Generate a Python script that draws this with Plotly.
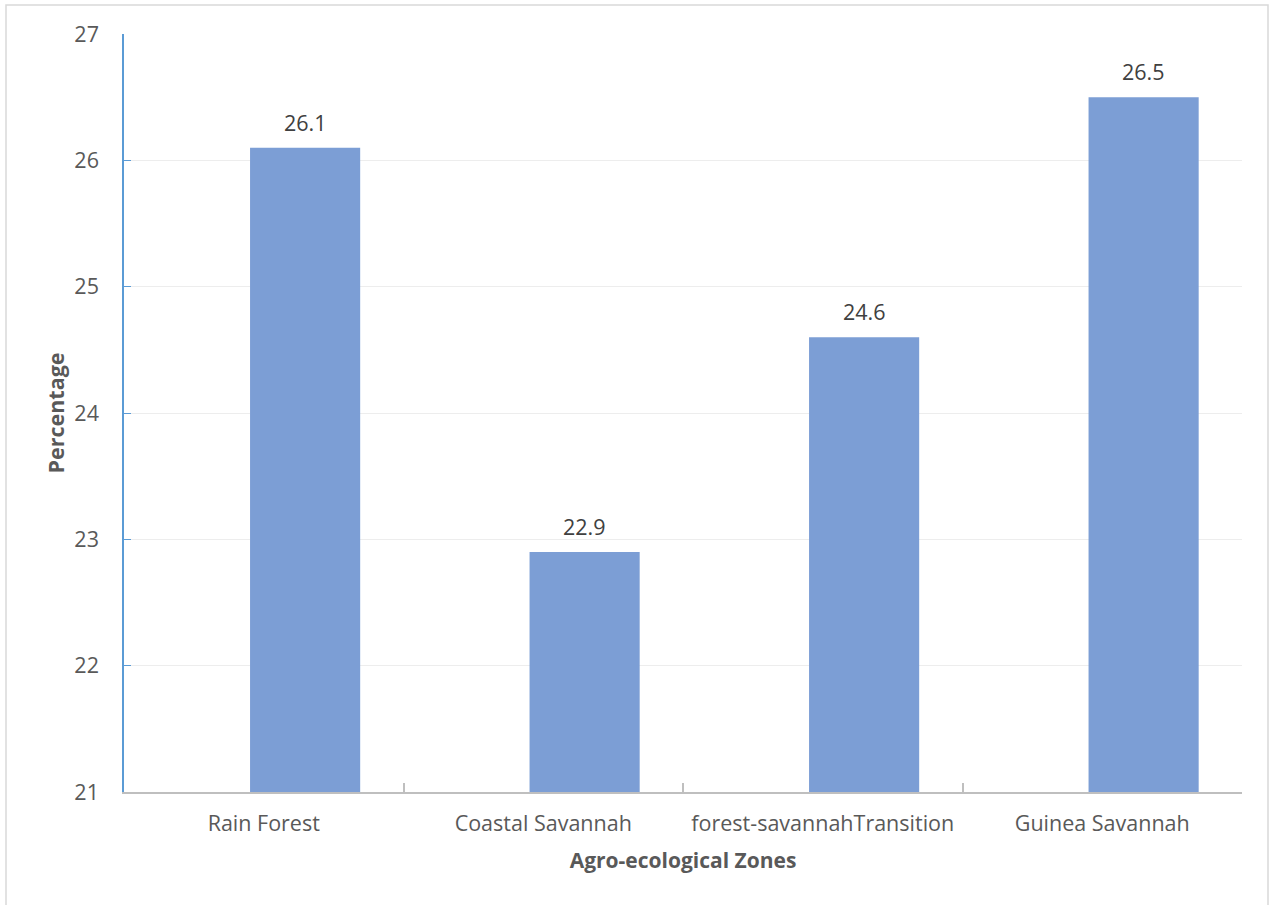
import plotly.graph_objects as go

categories = ["Rain Forest", "Coastal Savannah", "forest-savannahTransition", "Guinea Savannah"]
values = [26.1, 22.9, 24.6, 26.5]
y_ticks = [21, 22, 23, 24, 25, 26, 27]

BAR_W = 0.394
BAR_OFF = -0.049
FONT = "'Open Sans', 'Noto Sans', sans-serif"
TXT = "#595959"
FS = 21.5

fig = go.Figure()
fig.add_trace(go.Bar(
    x=categories, y=values,
    width=BAR_W, offset=BAR_OFF,
    marker=dict(color="#7C9ED5", line=dict(width=0)),
    hoverinfo="y",
))

for i, v in enumerate(values):
    fig.add_annotation(x=i + BAR_OFF + BAR_W / 2, y=v, text=f"{v}", showarrow=False,
                       yanchor="bottom", yshift=9, font=dict(size=FS, color="#404040", family=FONT))

fig.update_layout(
    width=1276, height=905,
    margin=dict(l=124, r=34, t=34, b=113),
    paper_bgcolor="white", plot_bgcolor="white",
    showlegend=False,
    font=dict(family=FONT, color=TXT),
    xaxis=dict(
        type="category",
        range=[-0.5, 3.5],
        tickson="boundaries", ticks="inside", ticklen=9, tickwidth=2, tickcolor="#BFBFBF",
        showline=True, linecolor="#BFBFBF", linewidth=2,
        showgrid=False, zeroline=False,
        tickfont=dict(size=FS, color=TXT, family=FONT),
        ticklabelstandoff=11,
        title=dict(text="<b>Agro-ecological Zones</b>", font=dict(size=21, color=TXT, family=FONT), standoff=18),
    ),
    yaxis=dict(
        range=[21, 27], tickvals=y_ticks,
        ticks="inside", ticklen=7, tickcolor="#5B9BD5", tickwidth=1,
        showline=True, linecolor="#5B9BD5", linewidth=1.5,
        showgrid=True, gridcolor="#EDEDED", gridwidth=1,
        zeroline=False,
        tickfont=dict(size=FS, color=TXT, family=FONT),
        ticklabelstandoff=19,
        title=dict(text="<b>Percentage</b>", font=dict(size=21.5, color=TXT, family=FONT), standoff=4),
    ),
    shapes=[dict(type="rect", xref="paper", yref="paper",
                 x0=(6 - 124) / 1118, x1=(1268 - 124) / 1118,
                 y0=(792 - 915) / 758, y1=(792 - 5) / 758,
                 line=dict(color="#D9D9D9", width=1.5), fillcolor="rgba(0,0,0,0)", layer="below")],
)

fig.write_html("out.html")
